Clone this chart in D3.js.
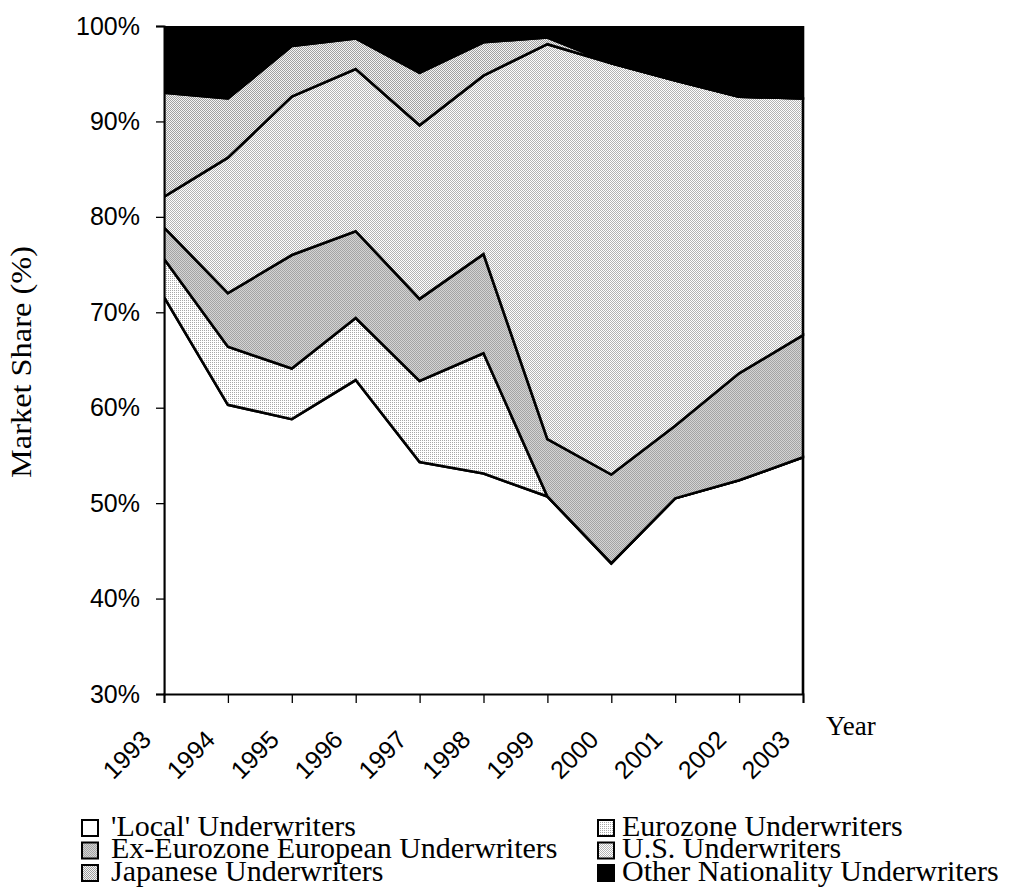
<!DOCTYPE html>
<html><head><meta charset="utf-8">
<script src="https://cdn.jsdelivr.net/npm/d3@7"></script>
<style>
html,body{margin:0;padding:0;background:#fff;}
svg{display:block;}
</style></head>
<body>
<svg id="chart" width="1022" height="895"></svg>
<script>
// ---- data (market share, %) ----
const years = [1993,1994,1995,1996,1997,1998,1999,2000,2001,2002,2003];
const seriesNames = ["'Local' Underwriters","Eurozone Underwriters","Ex-Eurozone European Underwriters","U.S. Underwriters","Japanese Underwriters","Other Nationality Underwriters"];
const local      = [71.6, 60.3, 58.8, 62.9, 54.3, 53.1, 50.7, 43.7, 50.5, 52.4, 54.8];
const eurozone   = [ 4.0,  6.1,  5.3,  6.5,  8.5, 12.6,  0.0,  0.0,  0.0,  0.0,  0.0];
const exEurozone = [ 3.3,  5.6, 11.9,  9.1,  8.6, 10.4,  6.0,  9.3,  7.6, 11.2, 12.8];
const us         = [ 3.2, 14.2, 16.6, 17.0, 18.2, 18.7, 41.4, 43.1, 36.2, 29.0, 24.8];
const japanese   = [10.9,  6.2,  5.3,  3.2,  5.5,  3.5,  0.7,  0.0,  0.0,  0.0,  0.0];
const other      = [ 7.0,  7.6,  2.1,  1.3,  4.9,  1.7,  1.2,  3.9,  5.7,  7.4,  7.6];
const yTicks = [30,40,50,60,70,80,90,100];

const keys = ["local","eurozone","exEurozone","us","japanese","other"];
const seriesArrays = {local, eurozone, exEurozone, us, japanese, other};
const table = years.map((yr,i)=>{
  const row = {year: yr};
  keys.forEach(k=> row[k] = seriesArrays[k][i]);
  return row;
});

const svg = d3.select("#chart");
const M = {left:164, top:26, right:803, bottom:694};
const serif = "'Liberation Serif', 'Times New Roman', serif";
const sans = "'Liberation Sans', Arial, sans-serif";

// patterns (dithered fills)
const defs = svg.append("defs");
function pat(id, w, h, bg, dots, dotColor){
  const p = defs.append("pattern").attr("id", id).attr("patternUnits","userSpaceOnUse")
    .attr("width", w).attr("height", h);
  p.append("rect").attr("width", w).attr("height", h).attr("fill", bg).attr("shape-rendering","crispEdges");
  dots.forEach(([x,y])=> p.append("rect").attr("x",x).attr("y",y).attr("width",1).attr("height",1)
    .attr("fill", dotColor).attr("shape-rendering","crispEdges"));
}
pat("pEuro", 2, 2, "#ffffff", [[0,0]], "#a8a8a8");
pat("pEx", 2, 2, "#d4d4d4", [[0,0],[1,1]], "#a4a4a4");
pat("pUS", 2, 2, "#ffffff", [[0,0],[1,1]], "#b4b4b4");
pat("pJap", 2, 2, "#f4f4f4", [[0,0],[1,1]], "#a0a0a0");

const fills = {local:"#ffffff", eurozone:"url(#pEuro)", exEurozone:"url(#pEx)", us:"url(#pUS)", japanese:"url(#pJap)", other:"#000000"};

const x = d3.scaleLinear().domain([years[0], years[years.length-1]]).range([M.left, M.right]);
const y = d3.scaleLinear().domain([30,100]).range([M.bottom, M.top]);

const stacked = d3.stack().keys(keys)(table);

defs.append("clipPath").attr("id","plotClip").append("rect")
  .attr("x", M.left).attr("y", M.top).attr("width", M.right-M.left+2).attr("height", M.bottom-M.top);

const area = d3.area()
  .x(d=>x(d.data.year))
  .y0(d=>y(Math.max(d[0], 0)))
  .y1(d=>y(d[1]));

const g = svg.append("g").attr("clip-path","url(#plotClip)");
g.selectAll("path.area").data(stacked).join("path")
  .attr("class","area")
  .attr("d", area)
  .attr("fill", d=>fills[d.key])
  .attr("stroke", "#000")
  .attr("stroke-width", 2.6)
  .attr("stroke-linejoin","miter");

// axes
const yAxis = d3.axisLeft(y).tickValues(yTicks).tickFormat(d=>d+"%").tickSize(8).tickPadding(16);
const yg = svg.append("g").attr("transform",`translate(${M.left},0)`).call(yAxis);
yg.select(".domain").attr("stroke","#000").attr("stroke-width",2);
yg.selectAll(".tick line").attr("stroke","#000").attr("stroke-width",1.3);
yg.selectAll(".tick text").attr("font-family",sans).attr("font-size",25).attr("fill","#000");

const xAxis = d3.axisBottom(x).tickValues(years).tickFormat(d3.format("d")).tickSize(9).tickPadding(4);
const xg = svg.append("g").attr("transform",`translate(0,${M.bottom})`).call(xAxis);
xg.select(".domain").attr("stroke","#000").attr("stroke-width",2);
xg.selectAll(".tick line").attr("stroke","#000").attr("stroke-width",1.3);
xg.selectAll(".tick text")
  .attr("font-family",sans).attr("font-size",25).attr("fill","#000")
  .attr("text-anchor","end")
  .attr("dy",0)
  .attr("transform","translate(-21,38) rotate(-45)");

// axis titles
svg.append("text").attr("x", 826).attr("y", 735)
  .attr("font-family",serif).attr("font-size",27).text("Year");
svg.append("text").attr("transform","translate(31,362) rotate(-90)").attr("text-anchor","middle")
  .attr("font-family",serif).attr("font-size",30)
  .attr("textLength",232).attr("lengthAdjust","spacingAndGlyphs")
  .text("Market Share (%)");

// legend
const legendFills = keys.map(k=>fills[k]);
const leg = svg.append("g");
seriesNames.forEach((name,i)=>{
  const col = i%2, row = Math.floor(i/2);
  const lx = col===0 ? 81 : 597;
  const tx = col===0 ? 111 : 622;
  const ly = 819 + row*22.5;
  leg.append("rect").attr("x",lx+1).attr("y",ly+1).attr("width",16).attr("height",16)
    .attr("fill",legendFills[i]).attr("stroke","#000").attr("stroke-width",2);
  leg.append("text").attr("x", tx).attr("y", ly+16.5)
    .attr("font-family",serif).attr("font-size",30).text(name);
});
</script>
</body></html>
